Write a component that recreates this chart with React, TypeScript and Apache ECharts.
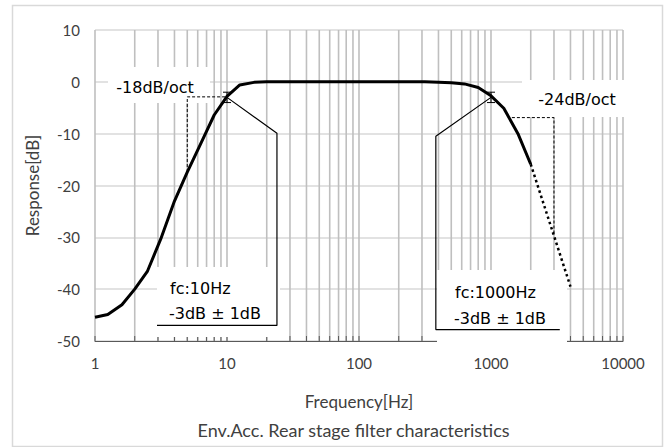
import React, { useEffect, useRef } from "react";
import * as echarts from "echarts";

// Main response curve (Hz, dB)
const freqs = [1, 1.25, 1.6, 2, 2.5, 3.15, 4, 5, 6.3, 8, 10, 12.5, 16, 20, 50, 100, 200, 315, 400, 500, 630, 800, 1000, 1250, 1600, 2000];
const response = [-45.4, -44.9, -43.0, -40.0, -36.5, -30.3, -23.0, -17.4, -12.0, -6.4, -2.8, -0.6, -0.1, 0, 0, 0, 0, 0, -0.1, -0.2, -0.4, -1.1, -2.7, -5.1, -10.0, -15.9];
// Dotted extrapolation
const extFreqs = [2000, 4000];
const extResponse = [-15.9, -39.5];
// Error bars at the cut-off frequencies
const errFreqs = [10, 1000];
const errHigh = [-2, -2];
const errLow = [-4, -4];
// Slope guide (dashed)
const slopeLowFreqs = [5, 5, 10];
const slopeLowDb = [-17.4, -2.9, -2.9];
const slopeHighFreqs = [1440, 3000, 3000];
const slopeHighDb = [-6.9, -6.9, -29.6];
// Callout leader lines
const leaderLowFreqs = [10, 23.9, 23.9, 2.95];
const leaderLowDb = [-3, -9.9, -47, -47];
const leaderHighFreqs = [1000, 382, 382, 3320];
const leaderHighDb = [-3, -10.5, -47.8, -47.8];
// Axis
const xMin = 1;
const xMax = 10000;
const yMin = -50;
const yMax = 10;
const yStep = 10;
const decades = [1, 10, 100, 1000];
const gridFreqs: number[] = [];
decades.forEach((d) => {
  for (let k = 1; k <= 9; k++) gridFreqs.push(k * d);
});
gridFreqs.push(10000);
// Texts
const lowSlopeText = "-18dB/oct";
const highSlopeText = "-24dB/oct";
const lowFcText = "fc:10Hz";
const highFcText = "fc:1000Hz";
const tolText = "-3dB \u00b1 1dB";
const xName = "Frequency[Hz]";
const yName = "Response[dB]";
const titleText = "Env.Acc. Rear stage filter characteristics";

const pairs = (xs: number[], ys: number[]) => xs.map((x, i) => [x, ys[i]]);

const CALLOUT_FONT = "DejaVu Sans";
const AXIS_FONT = "Lato";

function box(x: number, y: number, w: number, h: number) {
  return {
    type: "rect",
    z: 1.8,
    silent: true,
    shape: { x, y, width: w, height: h },
    style: { fill: "#ffffff", stroke: null },
  };
}

function txt(text: string, x: number, y: number, align: string, font: string, size: number, color: string) {
  return {
    type: "text",
    z: 10,
    silent: true,
    x,
    y,
    style: {
      text,
      fontFamily: font,
      fontSize: size,
      fill: color,
      align,
      verticalAlign: "middle",
      textAlign: align,
      textVerticalAlign: "middle",
    },
  };
}

export default function App() {
  const ref = useRef<HTMLDivElement>(null);
  useEffect(() => {
    if (!ref.current) return;
    const chart = echarts.init(ref.current, null, { renderer: "svg" });
    const option: any = {
      animation: false,
      backgroundColor: "#ffffff",
      grid: { left: 95, right: 44, top: 30, bottom: 106, containLabel: false },
      xAxis: {
        type: "log",
        logBase: 10,
        min: xMin,
        max: xMax,
        name: xName,
        nameLocation: "middle",
        nameGap: 52,
        nameTextStyle: { fontFamily: AXIS_FONT, fontSize: 17, color: "#404040" },
        axisLine: { show: true, onZero: false, lineStyle: { color: "#595959", width: 1 } },
        axisTick: { show: false },
        splitLine: { show: false },
        minorTick: { show: false },
        axisLabel: {
          fontFamily: AXIS_FONT,
          fontSize: 15,
          color: "#404040",
          margin: 14,
          formatter: (v: number) => String(Math.round(v)),
        },
      },
      yAxis: {
        type: "value",
        min: yMin,
        max: yMax,
        interval: yStep,
        name: yName,
        nameLocation: "middle",
        nameRotate: 90,
        nameGap: 54,
        nameTextStyle: { fontFamily: AXIS_FONT, fontSize: 17, color: "#404040" },
        axisLine: { show: false },
        axisTick: { show: false },
        splitLine: { show: true, lineStyle: { color: "#d9d9d9", width: 1.5 } },
        axisLabel: { fontFamily: AXIS_FONT, fontSize: 15, color: "#404040", margin: 15 },
      },
      series: [
        {
          type: "custom",
          z: 1,
          silent: true,
          clip: false,
          encode: { x: 0, y: 1 },
          data: gridFreqs.map((f) => [f, yMin]),
          renderItem: (_p: any, api: any) => {
            const t = api.coord([api.value(0), yMax]);
            const b = api.coord([api.value(0), yMin]);
            return {
              type: "line",
              shape: { x1: t[0], y1: t[1], x2: b[0], y2: b[1] },
              style: { stroke: "#bfbfbf", lineWidth: 1.6 },
            };
          },
        },
        {
          type: "custom",
          z: 1.5,
          silent: true,
          clip: false,
          encode: { x: 0, y: 1 },
          data: gridFreqs.map((f) => [f, yMin]),
          renderItem: (_p: any, api: any) => {
            const b = api.coord([api.value(0), yMin]);
            return {
              type: "line",
              shape: { x1: b[0], y1: b[1], x2: b[0], y2: b[1] - 5 },
              style: { stroke: "#595959", lineWidth: 1 },
            };
          },
        },
        {
          type: "line",
          z: 3,
          data: pairs(slopeLowFreqs, slopeLowDb),
          showSymbol: false,
          symbol: "none",
          lineStyle: { color: "#000", width: 1, type: [3, 2] },
          silent: true,
        },
        {
          type: "line",
          z: 3,
          data: pairs(slopeHighFreqs, slopeHighDb),
          showSymbol: false,
          symbol: "none",
          lineStyle: { color: "#000", width: 1, type: [3, 2] },
          silent: true,
        },
        {
          type: "line",
          z: 3,
          data: pairs(leaderLowFreqs, leaderLowDb),
          showSymbol: false,
          symbol: "none",
          lineStyle: { color: "#000", width: 1.2 },
          silent: true,
        },
        {
          type: "line",
          z: 3,
          data: pairs(leaderHighFreqs, leaderHighDb),
          showSymbol: false,
          symbol: "none",
          lineStyle: { color: "#000", width: 1.2 },
          silent: true,
        },
        {
          type: "line",
          z: 4,
          data: pairs(extFreqs, extResponse),
          showSymbol: false,
          symbol: "none",
          lineStyle: { color: "#000", width: 2.5, type: [2.5, 3], cap: "butt" },
          silent: true,
        },
        {
          type: "line",
          z: 5,
          data: pairs(freqs, response),
          showSymbol: false,
          symbol: "none",
          lineStyle: { color: "#000", width: 3 },
          silent: true,
        },
        {
          type: "custom",
          z: 6,
          silent: true,
          clip: false,
          encode: { x: 0, y: [1, 2] },
          data: errFreqs.map((f, i) => [f, errHigh[i], errLow[i]]),
          renderItem: (_p: any, api: any) => {
            const hi = api.coord([api.value(0), api.value(1)]);
            const lo = api.coord([api.value(0), api.value(2)]);
            const w = 4;
            const st = { stroke: "#000", lineWidth: 1 };
            return {
              type: "group",
              children: [
                { type: "line", shape: { x1: hi[0], y1: hi[1], x2: lo[0], y2: lo[1] }, style: st },
                { type: "line", shape: { x1: hi[0] - w, y1: hi[1], x2: hi[0] + w, y2: hi[1] }, style: st },
                { type: "line", shape: { x1: lo[0] - w, y1: lo[1], x2: lo[0] + w, y2: lo[1] }, style: st },
              ],
            };
          },
        },
      ],
      graphic: {
        elements: [
          {
            type: "rect",
            z: 20,
            silent: true,
            shape: { x: 12.5, y: 5.5, width: 650, height: 441 },
            style: { fill: null, stroke: "#d9d9d9", lineWidth: 1.5 },
          },
          box(108, 67, 102, 36),
          box(522, 80, 110, 37),
          box(157, 267, 123, 70),
          box(437, 270, 130, 76),
          txt(lowSlopeText, 155, 87, "center", CALLOUT_FONT, 16, "#000"),
          txt(highSlopeText, 577, 99, "center", CALLOUT_FONT, 16, "#000"),
          txt(lowFcText, 170, 288, "left", CALLOUT_FONT, 16, "#000"),
          txt(tolText, 169, 313, "left", CALLOUT_FONT, 16, "#000"),
          txt(highFcText, 455, 292, "left", CALLOUT_FONT, 16, "#000"),
          txt(tolText, 454, 318, "left", CALLOUT_FONT, 16, "#000"),
          txt(titleText, 353.5, 430, "center", AXIS_FONT, 18, "#404040"),
        ],
      },
    };
    chart.setOption(option);
    return () => chart.dispose();
  }, []);
  return (
    <div
      ref={ref}
      style={{ position: "fixed", left: 0, top: 0, width: 667, height: 447, background: "#fff" }}
    />
  );
}
